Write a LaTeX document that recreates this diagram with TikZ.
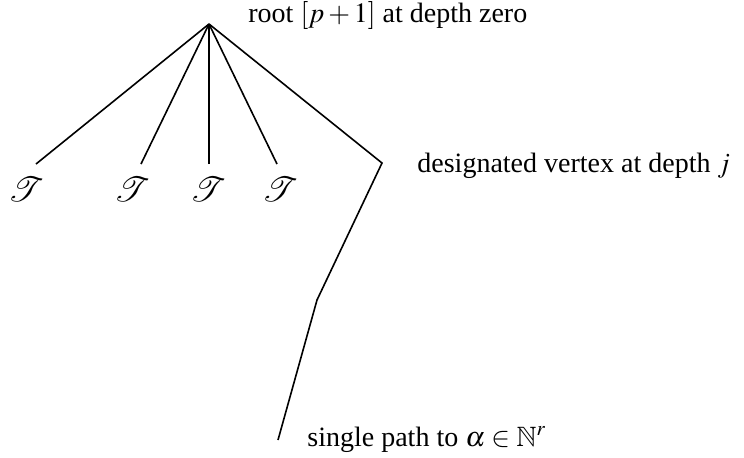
\documentclass[tikz,border=0pt]{standalone}
\usepackage{mathptmx}
\usepackage{amssymb}
\usepackage{mathrsfs}
\usepackage[no-math]{fontspec}
\setmainfont{Liberation Serif}
\begin{document}
\begin{tikzpicture}[x=0.5pt,y=-0.5pt,
  edge/.style={line width=0.8pt},
  lbl/.style={anchor=base west,inner sep=0pt,font=\fontsize{14}{16}\selectfont},
  tlbl/.style={inner sep=0pt,font=\fontsize{17}{19}\selectfont}]
\useasboundingbox (0,0) rectangle (744,457);
\coordinate (root) at (209,24);
\coordinate (l1) at (36,164);
\coordinate (l2) at (141,164);
\coordinate (l3) at (209,164);
\coordinate (l4) at (277,164);
\coordinate (dv) at (382,163);
\coordinate (mid) at (317,300);
\coordinate (end) at (278,440);
\draw[edge] (l1) -- (root);
\draw[edge] (l2) -- (root);
\draw[edge] (l3) -- (root);
\draw[edge] (l4) -- (root);
\draw[edge] (root) -- (dv) -- (mid) -- (end);
\node[tlbl] (t1) at (26,189) {$\mathscr{T}$};
\node[tlbl] (t2) at (132,189) {$\mathscr{T}$};
\node[tlbl] (t3) at (208,189) {$\mathscr{T}$};
\node[tlbl] (t4) at (280,189) {$\mathscr{T}$};
\node[lbl] (rl) at (248,22) {root $[p+1]$ at depth zero};
\node[lbl] (dl) at (417,172) {designated vertex at depth $j$};
\node[lbl] (sl) at (307,446) {single path to $\alpha\in\mathbb{N}^r$};
\end{tikzpicture}
\end{document}
